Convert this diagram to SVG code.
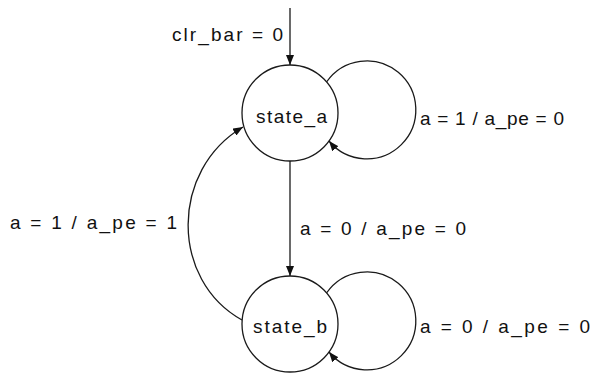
<svg xmlns="http://www.w3.org/2000/svg" width="594" height="375" viewBox="0 0 594 375">
<style>
.node{fill:none;stroke:#1a1a1a;stroke-width:1.3}
.edge{fill:none;stroke:#1a1a1a;stroke-width:1.3}
text{font-family:"Liberation Sans",Arial,Helvetica,sans-serif;font-size:19px;fill:#111}
</style>
<defs>
<marker id="ah" viewBox="0 0 10 8" refX="10" refY="4" markerWidth="10" markerHeight="8" markerUnits="userSpaceOnUse" orient="auto">
<path d="M0,0 L10,4 L0,8 z" fill="#111"/>
</marker>
</defs>
<rect width="594" height="375" fill="#fff"/>
<g id="connectors">
<path id="init" class="edge" d="M290,8 L290,65" marker-end="url(#ah)"/>
<path id="loop_a" class="edge" d="M326.5,82 A49,49 0 1 1 329,141" marker-end="url(#ah)"/>
<path id="a_to_b" class="edge" d="M290,161 L290,276" marker-end="url(#ah)"/>
<path id="loop_b" class="edge" d="M326.5,293 A49,49 0 1 1 329,352" marker-end="url(#ah)"/>
<path id="b_to_a" class="edge" d="M242,320 C170,280 170,170 243,127" marker-end="url(#ah)"/>
<text x="172" y="41" textLength="111" lengthAdjust="spacing">clr_bar = 0</text>
<text x="420" y="125" textLength="144" lengthAdjust="spacing">a = 1 / a_pe = 0</text>
<text x="300" y="235" textLength="166" lengthAdjust="spacing">a = 0 / a_pe = 0</text>
<text x="10" y="229" textLength="167" lengthAdjust="spacing">a = 1 / a_pe = 1</text>
<text x="420" y="333" textLength="170" lengthAdjust="spacing">a = 0 / a_pe = 0</text>
</g>
<g id="state_a">
<circle class="node" cx="290" cy="113" r="48"/>
<text x="256" y="123" textLength="71" lengthAdjust="spacing">state_a</text>
</g>
<g id="state_b">
<circle class="node" cx="290" cy="324" r="48"/>
<text x="253" y="333" textLength="74" lengthAdjust="spacing">state_b</text>
</g>
</svg>
